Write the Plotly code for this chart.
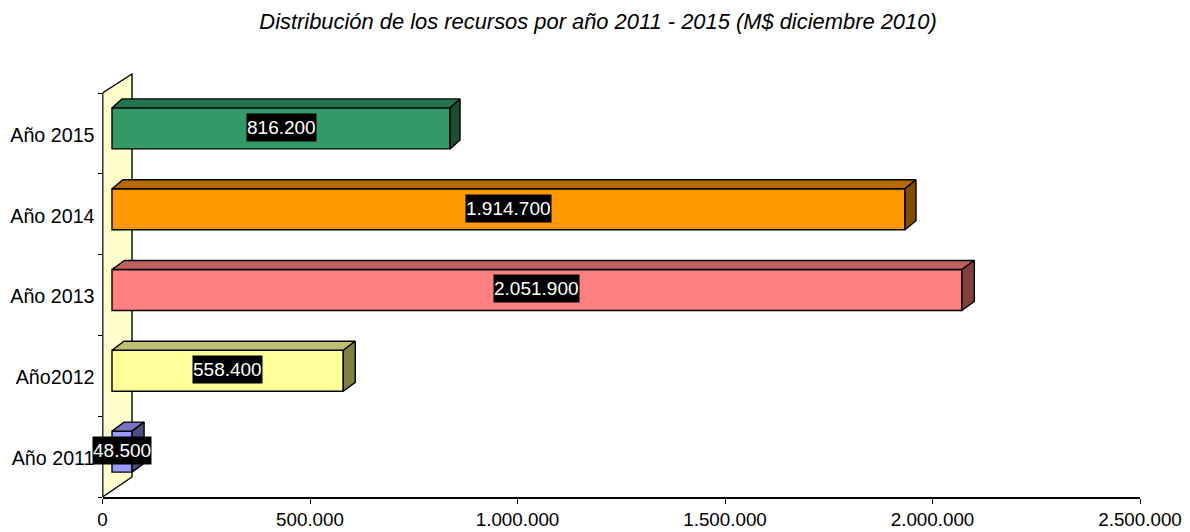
import plotly.graph_objects as go

# ---- data ----
categories = ["Año 2011", "Año2012", "Año 2013", "Año 2014", "Año 2015"]
values = [48500, 558400, 2051900, 1914700, 816200]
value_labels = ["48.500", "558.400", "2.051.900", "1.914.700", "816.200"]
x_ticks = [0, 500000, 1000000, 1500000, 2000000, 2500000]
x_tick_labels = ["0", "500.000", "1.000.000", "1.500.000", "2.000.000", "2.500.000"]
title_text = "Distribución de los recursos por año 2011 - 2015 (M$ diciembre 2010)"

# ---- style ----
front_colors = ["#9999FF", "#FFFF99", "#FF8080", "#FF9900", "#339966"]
top_colors = ["#7373BF", "#BFBF73", "#BF6060", "#B36B00", "#267350"]
side_colors = ["#4D4D80", "#808040", "#804040", "#804D00", "#1A4D33"]
depth_px = [12, 12, 12.5, 11, 10]
WALL = "#FFFFCC"
FONT = "Liberation Sans"

W, H = 1190, 532
L, R = 102.5, 1140
FLOOR, TOP_CAT, PLOT_TOP = 497, 93, 60
X_MAX = 2500000
CAT_PX = (FLOOR - TOP_CAT) / 5
PX_PER_X = (R - L) / X_MAX
y_top = (FLOOR - PLOT_TOP) / CAT_PX


def dx(px):
    return px / PX_PER_X


def dy(px):
    return px / CAT_PX


BAR_BASE = dx(9.5)
BAR_SCALE = 0.998
BAR_H = dy(41)
BAR_SHIFT = dy(5)
DEPTH_Y = dy(9)
LW = 1.4

fig = go.Figure()

centers = [i + 0.5 + BAR_SHIFT for i in range(len(values))]
ends = [BAR_BASE + v * BAR_SCALE for v in values]

for i, v in enumerate(values):
    b0, b1 = centers[i] - BAR_H / 2, centers[i] + BAR_H / 2
    d = dx(depth_px[i])
    fig.add_trace(go.Scatter(
        x=[BAR_BASE, BAR_BASE + d, ends[i] + d, ends[i], BAR_BASE],
        y=[b1, b1 + DEPTH_Y, b1 + DEPTH_Y, b1, b1],
        mode="lines", fill="toself", fillcolor=top_colors[i],
        line=dict(color="black", width=LW), hoverinfo="skip", showlegend=False))
    fig.add_trace(go.Scatter(
        x=[ends[i], ends[i] + d, ends[i] + d, ends[i], ends[i]],
        y=[b0, b0 + DEPTH_Y, b1 + DEPTH_Y, b1, b0],
        mode="lines", fill="toself", fillcolor=side_colors[i],
        line=dict(color="black", width=LW), hoverinfo="skip", showlegend=False))

fig.add_trace(go.Bar(
    y=centers, x=[v * BAR_SCALE for v in values], base=BAR_BASE, orientation="h",
    width=BAR_H, marker=dict(color=front_colors, line=dict(color="black", width=LW)),
    customdata=categories, hovertemplate="%{customdata}: %{x}<extra></extra>", showlegend=False))

for i, lab in enumerate(value_labels):
    fig.add_annotation(
        x=BAR_BASE + values[i] * BAR_SCALE / 2, y=centers[i], text=lab, showarrow=False,
        bgcolor="black", font=dict(color="white", size=19, family=FONT),
        borderpad=0, height=27, xanchor="center", yanchor="middle", yshift=1)

# back wall (below the marks) and axis line
wall = dx(29.5)
fig.add_shape(
    type="path", layer="below", xref="x", yref="y",
    path=f"M 0 0 L {wall} {dy(20)} L {wall} {5 + dy(19)} L 0 5 Z",
    fillcolor=WALL, line=dict(color="black", width=LW))
fig.add_shape(type="line", layer="above", xref="x", yref="y", x0=0, x1=0, y0=0, y1=5,
              line=dict(color="black", width=1.6))

fig.update_layout(
    width=W, height=H, margin=dict(l=0, r=0, t=0, b=0, pad=0),
    paper_bgcolor="white", plot_bgcolor="white", showlegend=False, barmode="overlay",
    font=dict(family=FONT, size=19, color="black"),
    title=dict(text=title_text, x=598 / W, xanchor="center", y=1 - 21 / H, yanchor="middle",
               font=dict(family=FONT, size=21.9, style="italic", color="black")),
    xaxis=dict(domain=[L / W, R / W], range=[0, X_MAX], tickvals=x_ticks, ticktext=x_tick_labels,
               ticks="outside", ticklen=5, tickcolor="black", tickwidth=1, showgrid=False,
               zeroline=False, showline=True, linecolor="black", linewidth=1.6, automargin=False,
               tickfont=dict(size=18.8)),
    yaxis=dict(domain=[(H - FLOOR) / H, 1 - PLOT_TOP / H], range=[0, y_top],
               tickvals=[i + 0.5 - dy(1.5) for i in range(5)], ticktext=categories,
               ticks="outside", ticklen=3, tickcolor="rgba(0,0,0,0)", showgrid=False,
               zeroline=False, showline=False, automargin=False, tickfont=dict(size=19.7),
               minor=dict(tickvals=list(range(6)), ticks="outside", ticklen=4,
                          tickcolor="black", tickwidth=1, showgrid=False)),
)

fig.write_html("out.html", config={"displayModeBar": False},
               post_script="document.body.style.margin='0';")
